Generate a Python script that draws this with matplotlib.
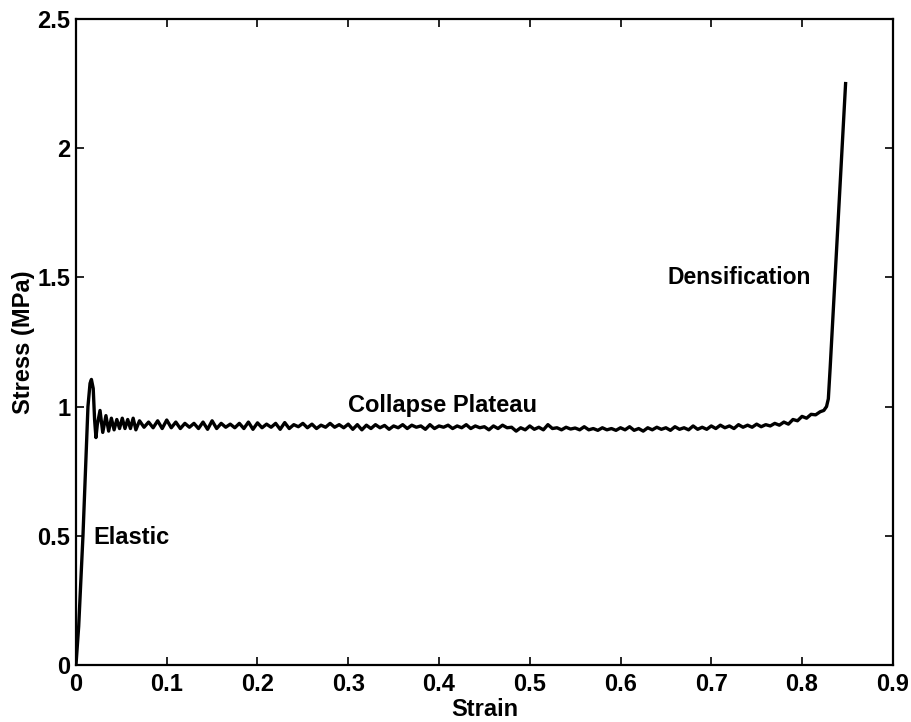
import matplotlib
matplotlib.use("Agg")
import matplotlib.pyplot as plt

plt.rcParams['font.family'] = ['Liberation Sans', 'DejaVu Sans']

# elastic rise and first peak
strain_el = [0.0, 0.003, 0.0077, 0.0132, 0.0155, 0.0170, 0.0190, 0.0205, 0.022]
stress_el = [0.0, 0.15, 0.50, 1.00, 1.09, 1.105, 1.07, 0.95, 0.88]

# early oscillations after the peak
strain_osc = [0.0235, 0.0265, 0.0295, 0.033, 0.036, 0.039, 0.042, 0.045,
              0.048, 0.051, 0.054, 0.057, 0.060, 0.063, 0.066, 0.070]
stress_osc = [0.93, 0.985, 0.90, 0.965, 0.905, 0.955, 0.91, 0.95,
              0.915, 0.955, 0.915, 0.95, 0.915, 0.955, 0.91, 0.945]

# collapse plateau
strain_pl = [0.075, 0.080, 0.085, 0.090, 0.095, 0.100, 0.105, 0.110, 0.115, 0.120,
             0.125, 0.130, 0.135, 0.140, 0.145, 0.150, 0.155, 0.160, 0.165, 0.170,
             0.175, 0.180, 0.185, 0.190, 0.195, 0.200, 0.205, 0.210, 0.215, 0.220,
             0.225, 0.230, 0.235, 0.240, 0.245, 0.250, 0.255, 0.260, 0.265, 0.270,
             0.275, 0.280, 0.285, 0.290, 0.295, 0.300, 0.305, 0.310, 0.315, 0.320,
             0.325, 0.330, 0.335, 0.340, 0.345, 0.350, 0.355, 0.360, 0.365, 0.370,
             0.375, 0.380, 0.385, 0.390, 0.395, 0.400, 0.405, 0.410, 0.415, 0.420,
             0.425, 0.430, 0.435, 0.440, 0.445, 0.450, 0.455, 0.460, 0.465, 0.470,
             0.475, 0.480, 0.485, 0.490, 0.495, 0.500, 0.505, 0.510, 0.515, 0.520,
             0.525, 0.530, 0.535, 0.540, 0.545, 0.550, 0.555, 0.560, 0.565, 0.570,
             0.575, 0.580, 0.585, 0.590, 0.595, 0.600, 0.605, 0.610, 0.615, 0.620,
             0.625, 0.630, 0.635, 0.640, 0.645, 0.650, 0.655, 0.660, 0.665, 0.670,
             0.675, 0.680, 0.685, 0.690, 0.695, 0.700, 0.705, 0.710, 0.715, 0.720,
             0.725, 0.730, 0.735, 0.740, 0.745, 0.750, 0.755, 0.760, 0.765, 0.770,
             0.775, 0.780, 0.785, 0.790, 0.795, 0.800, 0.805, 0.810, 0.815, 0.820]
stress_pl = [0.92, 0.94, 0.918, 0.945, 0.915, 0.948, 0.918, 0.94, 0.915, 0.935,
             0.92, 0.935, 0.915, 0.94, 0.912, 0.945, 0.915, 0.935, 0.92, 0.932,
             0.918, 0.935, 0.915, 0.94, 0.912, 0.937, 0.918, 0.932, 0.92, 0.935,
             0.912, 0.938, 0.915, 0.93, 0.922, 0.935, 0.918, 0.932, 0.915, 0.928,
             0.92, 0.935, 0.92, 0.93, 0.918, 0.932, 0.912, 0.93, 0.91, 0.928,
             0.915, 0.93, 0.918, 0.927, 0.912, 0.925, 0.918, 0.93, 0.915, 0.928,
             0.92, 0.925, 0.912, 0.93, 0.915, 0.925, 0.92, 0.928, 0.915, 0.925,
             0.918, 0.93, 0.915, 0.925, 0.918, 0.922, 0.91, 0.925, 0.915, 0.928,
             0.918, 0.92, 0.905, 0.918, 0.91, 0.925, 0.912, 0.92, 0.91, 0.93,
             0.915, 0.918, 0.91, 0.92, 0.913, 0.917, 0.91, 0.922, 0.91, 0.915,
             0.908, 0.918, 0.91, 0.915, 0.908, 0.918, 0.91, 0.922, 0.908, 0.915,
             0.905, 0.918, 0.91, 0.92, 0.912, 0.918, 0.908, 0.922, 0.912, 0.918,
             0.91, 0.925, 0.912, 0.92, 0.912, 0.925, 0.915, 0.928, 0.918, 0.925,
             0.915, 0.93, 0.92, 0.928, 0.92, 0.932, 0.922, 0.93, 0.925, 0.935,
             0.928, 0.94, 0.932, 0.95, 0.945, 0.962, 0.955, 0.97, 0.968, 0.98]

# densification
strain_de = [0.824, 0.827, 0.829, 0.831, 0.848]
stress_de = [0.985, 1.0, 1.03, 1.15, 2.25]

strain = strain_el + strain_osc + strain_pl + strain_de
stress = stress_el + stress_osc + stress_pl + stress_de

fig = plt.figure(figsize=(9.11, 7.22), dpi=100)
ax = fig.add_axes([0.0834, 0.079, 0.8966, 0.8947])
ax.plot(strain, stress, color='black', lw=2.4, solid_joinstyle='round')

ax.set_xlim(0, 0.9)
ax.set_ylim(0, 2.5)
ax.set_xticks([0, 0.1, 0.2, 0.3, 0.4, 0.5, 0.6, 0.7, 0.8, 0.9])
ax.set_xticklabels(['0', '0.1', '0.2', '0.3', '0.4', '0.5', '0.6', '0.7', '0.8', '0.9'])
ax.set_yticks([0, 0.5, 1, 1.5, 2, 2.5])
ax.set_yticklabels(['0', '0.5', '1', '1.5', '2', '2.5'])
ax.tick_params(direction='in', length=6, width=1.2, top=True, right=True,
               labelsize=17)
ax.tick_params(axis='x', pad=6)
ax.tick_params(axis='y', pad=4)
for lab in ax.get_xticklabels() + ax.get_yticklabels():
    lab.set_fontweight('bold')
for s in ax.spines.values():
    s.set_linewidth(1.6)

ax.set_xlabel('Strain', fontsize=17, fontweight='bold', labelpad=1.5)
ax.set_ylabel('Stress (MPa)', fontsize=17, fontweight='bold', labelpad=2)

ax.text(0.019, 0.495, 'Elastic', fontsize=17, fontweight='bold', va='center')
ax.text(0.30, 1.006, 'Collapse Plateau', fontsize=17, fontweight='bold', va='center')
ax.text(0.652, 1.50, 'Densification', fontsize=16.5, fontweight='bold', va='center')

fig.savefig('out.png', dpi=100)
